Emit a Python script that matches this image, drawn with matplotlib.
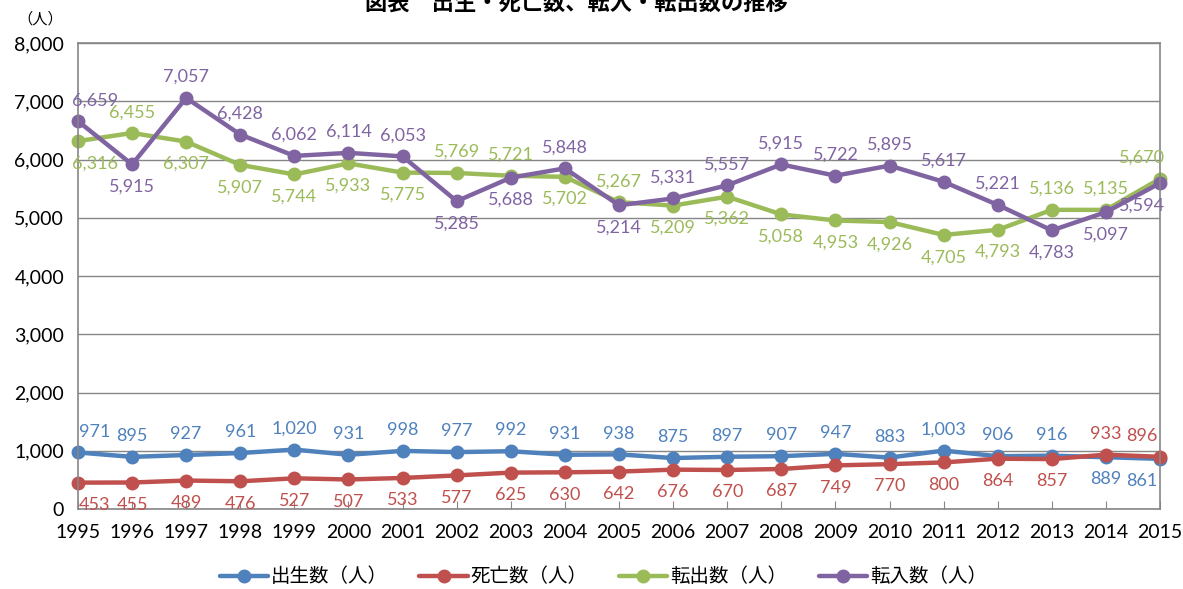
import numpy as np
import matplotlib.pyplot as plt

plt.rcParams['font.family'] = ['Lato', 'Noto Sans CJK JP', 'DejaVu Sans']

years = list(range(1995, 2016))
births = [971, 895, 927, 961, 1020, 931, 998, 977, 992, 931, 938,
          875, 897, 907, 947, 883, 1003, 906, 916, 889, 861]
deaths = [453, 455, 489, 476, 527, 507, 533, 577, 625, 630, 642,
          676, 670, 687, 749, 770, 800, 864, 857, 933, 896]
moved_out = [6316, 6455, 6307, 5907, 5744, 5933, 5775, 5769, 5721, 5702, 5267,
             5209, 5362, 5058, 4953, 4926, 4705, 4793, 5136, 5135, 5670]
moved_in = [6659, 5915, 7057, 6428, 6062, 6114, 6053, 5285, 5688, 5848, 5214,
            5331, 5557, 5915, 5722, 5895, 5617, 5221, 4783, 5097, 5594]
names = ['出生数（人）', '死亡数（人）', '転出数（人）', '転入数（人）']
colors = ['#4F81BD', '#C0504D', '#9BBB59', '#8064A2']

# label placement: 1 = above point, -1 = below point
U, D = 1, -1
place = [
    [U] * 19 + [D, D],
    [D] * 19 + [U, U],
    [D, U, D, D, D, D, D, U, U, D, U, D, D, D, D, D, D, D, U, U, U],
    [U, D, U, U, U, U, U, D, D, U, D, U, U, U, U, U, U, U, D, D, D],
]

fig = plt.figure(figsize=(11.83, 5.89), dpi=100)
ax = fig.add_axes([0.0659, 0.1358, 0.9147, 0.7912])

x = np.arange(len(years))
series = [births, deaths, moved_out, moved_in]
for vals, name, col, pl in zip(series, names, colors, place):
    ax.plot(x, vals, color=col, lw=3.2, marker='o', ms=9, label=name,
            solid_capstyle='round', clip_on=False)
    for i, v in enumerate(vals):
        dx = 0
        if i == 0:
            dx = 12
        elif i == len(vals) - 1:
            dx = -13
        dy = 15 if pl[i] > 0 else -16
        ax.annotate(f'{v:,}', (x[i], v), xytext=(dx, dy),
                    textcoords='offset points', ha='center', va='center',
                    color=col, fontsize=13, annotation_clip=False)

ax.set_xlim(0, len(years) - 1)
ax.set_ylim(0, 8000)
ax.set_yticks(range(0, 8001, 1000))
ax.set_yticklabels([f'{t:,}' for t in range(0, 8001, 1000)], fontsize=14)
ax.set_xticks(x)
ax.set_xticklabels([str(y) for y in years], fontsize=14)
ax.tick_params(axis='y', length=0, pad=10)
ax.tick_params(axis='x', direction='in', length=6, color='#868686', pad=11)
ax.grid(axis='y', color='#868686', lw=1)
ax.set_axisbelow(True)
for s in ax.spines.values():
    s.set_color('#868686')
    s.set_linewidth(1.2)

fig.text(0.034, 0.968, '（人）', fontsize=11, ha='center', va='center')
fig.text(0.487, 0.995, '図表　出生・死亡数、転入・転出数の推移', fontsize=16,
         fontweight='bold', ha='center', va='center')

fig.legend(loc='center', bbox_to_anchor=(0.51, 0.022), ncol=4,
           frameon=False, fontsize=14, handlelength=2.5, columnspacing=1.6,
           handletextpad=0.15, borderpad=0.1)

fig.savefig('out.png', dpi=100)
